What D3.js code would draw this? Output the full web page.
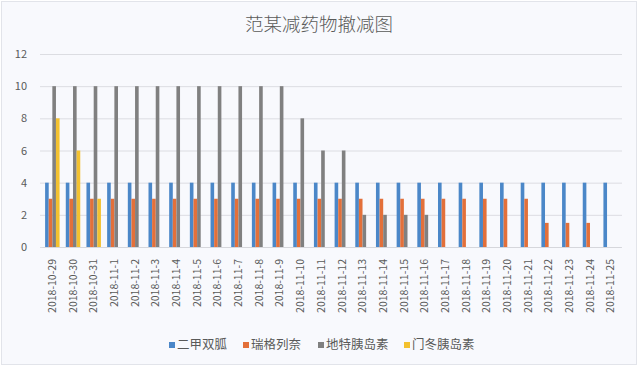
<!DOCTYPE html>
<html lang="zh">

<head>
    <meta charset="UTF-8">
    <title>范某减药物撤减图</title>
    <script src="https://d3js.org/d3.v7.min.js"></script>
    <style>
        body { margin: 0; background: #ffffff; }
        svg text { font-family: "Noto Sans CJK SC", "Noto Sans", sans-serif; fill: #595959; }
    </style>
</head>

<body>
    <svg id="chart" width="640" height="368"></svg>

    <script>
        // categories (dates)
        const dates = [
            "2018-10-29", "2018-10-30", "2018-10-31", "2018-11-1", "2018-11-2", "2018-11-3", "2018-11-4",
            "2018-11-5", "2018-11-6", "2018-11-7", "2018-11-8", "2018-11-9", "2018-11-10", "2018-11-11",
            "2018-11-12", "2018-11-13", "2018-11-14", "2018-11-15", "2018-11-16", "2018-11-17", "2018-11-18",
            "2018-11-19", "2018-11-20", "2018-11-21", "2018-11-22", "2018-11-23", "2018-11-24", "2018-11-25"
        ];
        const seriesNames = ["二甲双胍", "瑞格列奈", "地特胰岛素", "门冬胰岛素"];
        const seriesColors = ["#4b87c8", "#e3703a", "#808080", "#f3c12f"];

        const metformin = [4, 4, 4, 4, 4, 4, 4, 4, 4, 4, 4, 4, 4, 4, 4, 4, 4, 4, 4, 4, 4, 4, 4, 4, 4, 4, 4, 4];
        const repaglinide = [3, 3, 3, 3, 3, 3, 3, 3, 3, 3, 3, 3, 3, 3, 3, 3, 3, 3, 3, 3, 3, 3, 3, 3, 1.5, 1.5, 1.5, null];
        const detemir = [10, 10, 10, 10, 10, 10, 10, 10, 10, 10, 10, 10, 8, 6, 6, 2, 2, 2, 2, null, null, null, null, null, null, null, null, null];
        const aspart = [8, 6, 3, null, null, null, null, null, null, null, null, null, null, null, null, null, null, null, null, null, null, null, null, null, null, null, null, null];
        const yTicks = [0, 2, 4, 6, 8, 10, 12];

        const allSeries = [metformin, repaglinide, detemir, aspart];

        const svg = d3.select("#chart");

        // card background
        svg.append("rect")
            .attr("x", 1.5).attr("y", 1.5)
            .attr("width", 635).attr("height", 363)
            .attr("fill", "#f8f9fd")
            .attr("stroke", "#e2e4ea");

        const x = d3.scaleBand().domain(dates).range([42, 621]).paddingInner(0.3).paddingOuter(0.15);
        const xs = d3.scaleBand().domain(seriesNames).range([0, x.bandwidth()]);
        const y = d3.scaleLinear().domain([0, 12]).range([247, 54]);

        // title
        svg.append("text")
            .attr("x", 319).attr("y", 31)
            .attr("text-anchor", "middle")
            .attr("font-size", 18.5)
            .attr("font-weight", 300)
            .text("范某减药物撤减图");

        // y axis with gridlines
        const yAxis = svg.append("g")
            .attr("transform", "translate(40,0)")
            .call(d3.axisLeft(y).tickValues(yTicks).tickSize(-582).tickPadding(13));
        yAxis.select(".domain").remove();
        yAxis.selectAll(".tick line").attr("stroke", "#dcdde2").attr("stroke-width", 1);
        yAxis.selectAll(".tick text").attr("font-size", 11).attr("fill", "#595959");

        // bars
        const groups = svg.append("g").selectAll("g")
            .data(dates)
            .join("g")
            .attr("transform", d => `translate(${x(d)},0)`);

        groups.selectAll("rect")
            .data((d, i) => seriesNames.map((s, k) => ({ s, k, v: allSeries[k][i] })).filter(e => e.v != null))
            .join("rect")
            .attr("x", e => xs(e.s))
            .attr("width", xs.bandwidth())
            .attr("y", e => y(e.v))
            .attr("height", e => y(0) - y(e.v))
            .attr("fill", e => seriesColors[e.k]);

        // x axis
        const xAxis = svg.append("g")
            .attr("transform", "translate(0,247)")
            .call(d3.axisBottom(x).tickSize(0).tickPadding(0));
        xAxis.select(".domain").attr("stroke", "#d6d7dc");
        xAxis.selectAll(".tick text")
            .attr("font-size", 10.5)
            .attr("fill", "#595959")
            .attr("text-anchor", "end")
            .attr("transform", "rotate(-90)")
            .attr("x", -12)
            .attr("y", 0)
            .attr("dy", "0.35em");

        // legend
        const legendX = [169, 243, 318, 404];
        const legend = svg.append("g").selectAll("g")
            .data(seriesNames)
            .join("g")
            .attr("transform", (d, i) => `translate(${legendX[i]},345)`);
        legend.append("rect")
            .attr("x", 0).attr("y", -3)
            .attr("width", 6).attr("height", 6)
            .attr("fill", (d, i) => seriesColors[i]);
        legend.append("text")
            .attr("x", 8).attr("dy", "0.35em")
            .attr("font-size", 12.5)
            .text(d => d);
    </script>

</body>

</html>
